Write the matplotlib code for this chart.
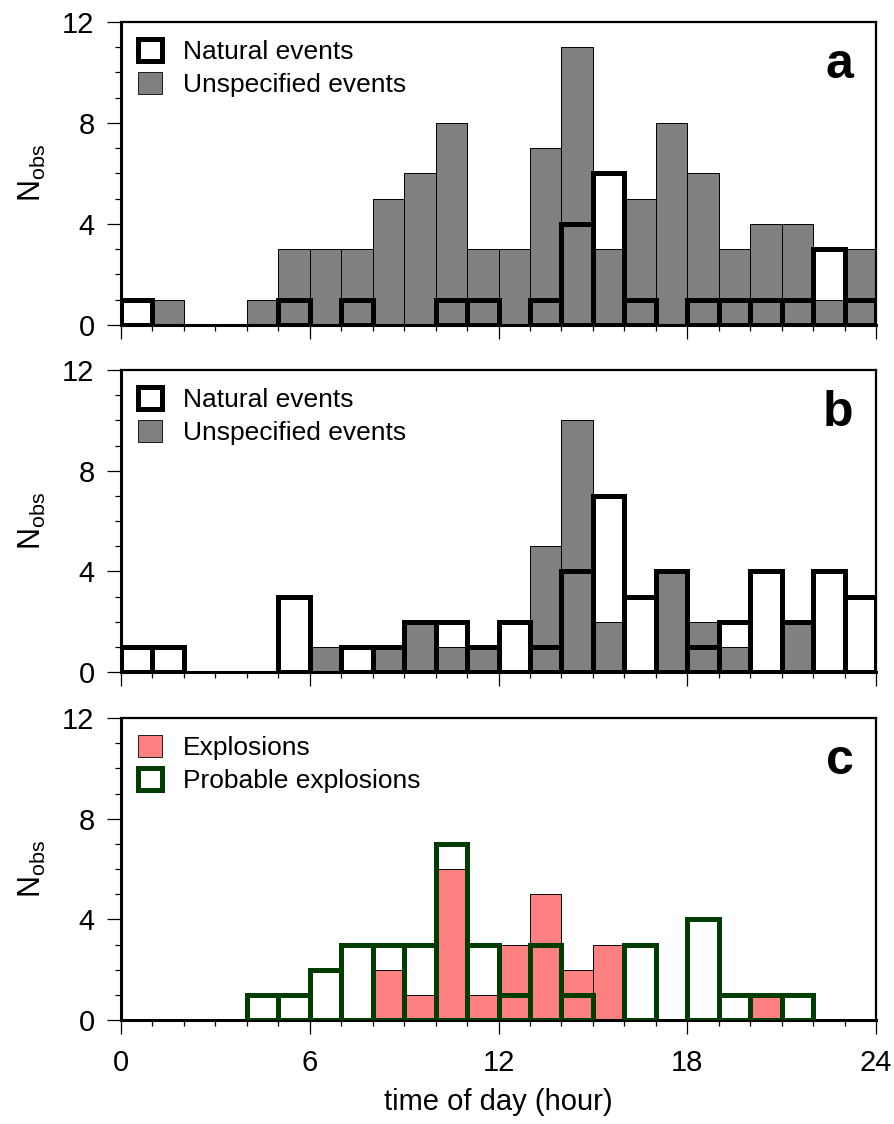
import numpy as np
import matplotlib
matplotlib.use("Agg")
import matplotlib.pyplot as plt
from matplotlib.patches import Patch
from matplotlib.ticker import MultipleLocator

plt.rcParams['font.family'] = ['Liberation Sans', 'DejaVu Sans']
plt.rcParams['mathtext.fontset'] = 'custom'
plt.rcParams['mathtext.rm'] = 'Liberation Sans'
plt.rcParams['mathtext.it'] = 'Liberation Sans'

# hourly bins, 0..23
hours = np.arange(24)

# panel a
natural_a = [1, 0, 0, 0, 0, 1, 0, 1, 0, 0, 1, 1, 0, 1, 4, 6, 1, 0, 1, 1, 1, 1, 3, 1]
unspec_a = [0, 1, 0, 0, 1, 3, 3, 3, 5, 6, 8, 3, 3, 7, 11, 3, 5, 8, 6, 3, 4, 4, 1, 3]

# panel b
natural_b = [1, 1, 0, 0, 0, 3, 0, 1, 1, 2, 2, 1, 2, 1, 4, 7, 3, 4, 1, 2, 4, 2, 4, 3]
unspec_b = [0, 0, 0, 0, 0, 0, 1, 0, 1, 2, 1, 1, 0, 5, 10, 2, 0, 4, 2, 1, 0, 2, 0, 0]

# panel c
explosions = [0, 0, 0, 0, 0, 0, 0, 0, 2, 1, 6, 1, 3, 5, 2, 3, 0, 0, 0, 0, 1, 0, 0, 0]
probable = [0, 0, 0, 0, 1, 1, 2, 3, 3, 3, 7, 3, 1, 3, 1, 0, 3, 0, 4, 1, 1, 1, 0, 0]

GRAY = '#808080'
RED = '#ff8080'
GREEN = '#003d00'


def bars(ax, vals, filled, color, edge, lw):
    vals = np.asarray(vals)
    m = vals > 0
    if filled:
        ax.bar(hours[m], vals[m], width=1.0, align='edge', color=color,
               edgecolor=edge, linewidth=lw, zorder=2)
    else:
        ax.bar(hours[m], vals[m], width=1.0, align='edge', fill=False,
               edgecolor=edge, linewidth=lw, zorder=3)


def style(ax, letter, show_xlabels):
    ax.set_xlim(0, 24)
    ax.set_ylim(0, 12)
    ax.xaxis.set_major_locator(MultipleLocator(6))
    ax.xaxis.set_minor_locator(MultipleLocator(1))
    ax.yaxis.set_major_locator(MultipleLocator(4))
    ax.yaxis.set_minor_locator(MultipleLocator(1))
    ax.tick_params(which='major', direction='out', length=10, width=0.9,
                   labelsize=21)
    ax.tick_params(which='minor', direction='out', length=4, width=0.9)
    ax.tick_params(axis='y', which='major', pad=9)
    ax.tick_params(axis='x', which='major', pad=11)
    if not show_xlabels:
        ax.tick_params(axis='x', labelbottom=False)
    for s in ['left', 'bottom']:
        ax.spines[s].set_linewidth(2.2)
    for s in ['top', 'right']:
        ax.spines[s].set_linewidth(1.6)
    ax.set_ylabel(r'$\mathregular{N_{obs}}$', fontsize=22, labelpad=10)
    ax.text(0.97, 0.815, letter, transform=ax.transAxes, ha='right',
            va='baseline', fontsize=36, fontweight='bold')


fig = plt.figure(figsize=(8.95, 11.24), dpi=100)
ax_a = fig.add_axes([0.1352, 0.7109, 0.8436, 0.2696])
ax_b = fig.add_axes([0.1352, 0.4021, 0.8436, 0.2687])
ax_c = fig.add_axes([0.1352, 0.0925, 0.8436, 0.2687])

nat_handle = Patch(facecolor='white', edgecolor='black', linewidth=3.6)
uns_handle = Patch(facecolor=GRAY, edgecolor='black', linewidth=0.6)

legend_kw = dict(loc='upper left', frameon=False, fontsize=19,
                 handlelength=0.9, handleheight=0.9, labelspacing=0.3,
                 handletextpad=0.8, borderaxespad=0.25)

for ax, nat, uns, letter in [(ax_a, natural_a, unspec_a, 'a'),
                             (ax_b, natural_b, unspec_b, 'b')]:
    bars(ax, uns, True, GRAY, 'black', 0.7)
    bars(ax, nat, False, None, 'black', 3.6)
    style(ax, letter, False)
    ax.legend([nat_handle, uns_handle], ['Natural events', 'Unspecified events'],
              **legend_kw)

bars(ax_c, explosions, True, RED, 'black', 0.7)
bars(ax_c, probable, False, None, GREEN, 3.6)
style(ax_c, 'c', True)
ax_c.set_xlabel('time of day (hour)', fontsize=21, labelpad=8)
exp_handle = Patch(facecolor=RED, edgecolor='black', linewidth=0.6)
prob_handle = Patch(facecolor='white', edgecolor=GREEN, linewidth=3.6)
ax_c.legend([exp_handle, prob_handle], ['Explosions', 'Probable explosions'],
            **legend_kw)

fig.savefig('out.png', dpi=100)
